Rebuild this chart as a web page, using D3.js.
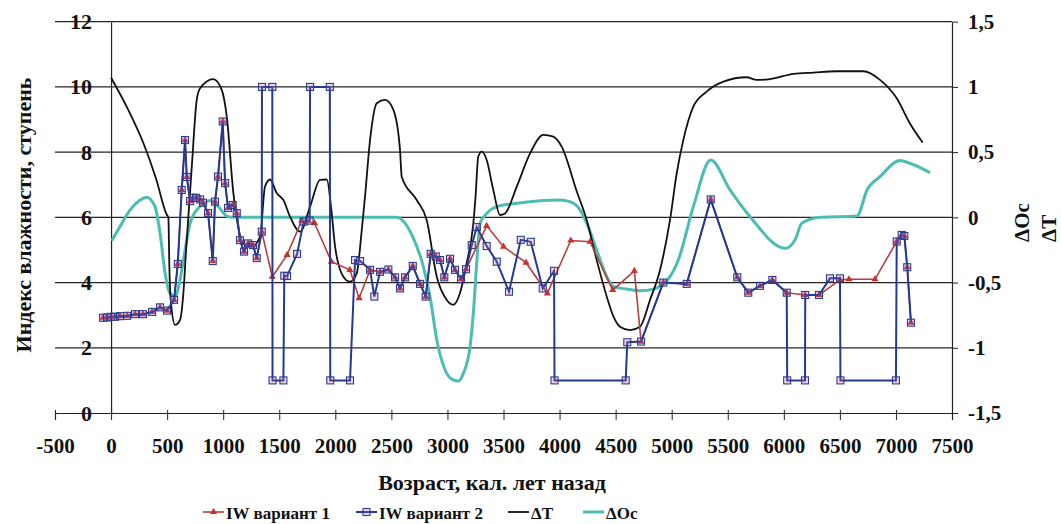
<!DOCTYPE html>
<html>
<head>
<meta charset="utf-8">
<script src="https://cdn.jsdelivr.net/npm/d3@7"></script>
<style>
  body { margin: 0; background: #fff; }
</style>
</head>
<body>
<div id="chart"></div>
<script>
// x ticks, y ticks
var xTicks = [-500, 0, 500, 1000, 1500, 2000, 2500, 3000, 3500, 4000, 4500, 5000, 5500, 6000, 6500, 7000, 7500];
var leftTicks = [0, 2, 4, 6, 8, 10, 12];
var rightTicks = [-1.5, -1, -0.5, 0, 0.5, 1, 1.5];

// IW вариант 1 : [возраст, индекс]
var iw1 = [[-71,2.92],[-36,2.93],[0,2.95],[36,2.95],[80,2.97],[143,2.98],[214,3.03],[285,3.03],[366,3.1],[437,3.24],[499,3.14],
  [562,3.47],[595,4.57],[630,6.84],[660,8.37],[675,7.24],[705,6.5],[731,6.6],[758,6.6],[794,6.55],[820,6.45],[865,6.13],
  [907,4.66],[927,6.48],[954,7.25],[996,8.94],[1017,7.05],[1043,6.29],[1085,6.38],[1121,6.13],[1150,5.3],[1186,4.95],
  [1222,5.2],[1266,5.15],[1299,4.75],[1344,5.56],[1438,4.18],[1570,4.85],[1700,5.9],[1815,5.82],[1965,4.64],[2130,4.39],
  [2212,3.52],[2310,4.39],[2399,4.33],[2473,4.4],[2533,4.16],[2577,3.82],[2622,4.16],[2691,4.51],[2756,3.96],[2806,3.57],
  [2851,4.88],[2896,4.8],[2934,4.69],[2972,4.16],[3023,4.73],[3068,4.39],[3121,4.1],[3166,4.41],[3350,5.74],[3500,5.1],
  [3701,4.61],[3891,3.67],[4100,5.29],[4272,5.25],[4474,3.77],[4667,4.36],[4727,2.19],[4925,4.0],[5134,3.96],[5348,6.55],
  [5585,4.16],[5683,3.69],[5788,3.9],[5898,4.08],[6026,3.69],[6189,3.62],[6314,3.62],[6501,4.08],[6581,4.1],[6813,4.1],
  [7007,5.26],[7051,5.46],[7075,5.43],[7101,4.47],[7134,2.77]];

// IW вариант 2
var iw2 = [[-71,2.92],[-36,2.93],[0,2.95],[36,2.95],[80,2.97],[143,2.98],[214,3.03],[285,3.03],[366,3.1],[437,3.24],[499,3.14],
  [562,3.47],[595,4.57],[630,6.84],[660,8.37],[675,7.24],[705,6.5],[731,6.6],[758,6.6],[794,6.55],[820,6.45],[865,6.13],
  [907,4.66],[927,6.48],[954,7.25],[996,8.94],[1017,7.05],[1043,6.29],[1085,6.38],[1121,6.13],[1150,5.3],[1186,4.95],
  [1222,5.2],[1266,5.15],[1299,4.75],[1344,5.56],[1346,10],[1438,10],[1440,1],[1537,1],[1545,4.21],[1570,4.2],[1659,4.88],
  [1718,5.87],[1771,5.9],[1775,10],[1951,10],[1955,1],[2131,1],[2176,4.69],[2221,4.66],[2310,4.39],[2348,3.57],[2399,4.33],
  [2473,4.4],[2533,4.16],[2577,3.82],[2622,4.16],[2691,4.51],[2756,3.96],[2806,3.57],[2851,4.88],[2896,4.8],[2934,4.69],
  [2972,4.16],[3023,4.73],[3068,4.39],[3121,4.1],[3166,4.41],[3217,5.15],[3261,5.7],[3350,5.12],[3440,4.64],[3549,3.72],
  [3654,5.31],[3743,5.25],[3850,3.82],[3951,4.36],[3955,1],[4590,1],[4604,2.17],[4727,2.19],[4925,4.0],[5134,3.96],
  [5348,6.55],[5585,4.16],[5683,3.69],[5788,3.9],[5898,4.08],[6026,3.69],[6030,1],[6189,1],[6191,3.62],[6314,3.62],
  [6412,4.13],[6501,4.13],[6505,1],[7000,1],[7007,5.26],[7051,5.46],[7075,5.43],[7101,4.47],[7134,2.77]];

// ΔT (правая ось)
var dT = [[0,1.07],[150,0.83],[288,0.57],[400,0.3],[497,0.02],[511,0.0],[520,-0.378],[532,-0.633],[571,-0.825],
  [615,-0.787],[645,-0.58],[669,-0.25],[720,0.389],[764,0.9],[794,0.99],[912,1.06],[987,0.977],[1032,0.772],[1091,0.185],
  [1133,-0.07],[1177,-0.2],[1255,-0.225],[1329,-0.148],[1373,0.236],[1418,0.29],[1478,0.185],[1537,0.133],[1596,0.005],
  [1686,-0.11],[1775,0.082],[1864,0.287],[1924,0.29],[1968,0.03],[1998,-0.225],[2072,-0.455],[2131,-0.493],[2191,-0.43],
  [2236,-0.097],[2265,0.16],[2310,0.594],[2370,0.875],[2444,0.9],[2518,0.824],[2577,0.517],[2592,0.312],[2726,0.133],
  [2815,-0.02],[2905,-0.455],[2994,-0.633],[3053,-0.67],[3112,-0.58],[3172,-0.35],[3231,-0.045],[3250,0.15],[3275,0.466],
  [3306,0.504],[3350,0.44],[3409,0.21],[3469,0.018],[3514,0.03],[3618,0.235],[3737,0.49],[3855,0.632],[3944,0.619],
  [4019,0.542],[4153,0.2],[4242,-0.02],[4331,-0.327],[4421,-0.608],[4480,-0.76],[4539,-0.838],[4628,-0.864],[4718,-0.838],
  [4807,-0.633],[4896,-0.403],[4985,-0.02],[5045,0.338],[5104,0.594],[5193,0.849],[5312,0.964],[5461,1.04],[5669,1.074],
  [5758,1.054],[5877,1.06],[6085,1.1],[6263,1.11],[6472,1.12],[6709,1.12],[6858,1.054],[7007,0.913],[7125,0.72],[7239,0.573]];

// ΔOc (правая ось)
var dOc = [[6,-0.18],[80,-0.07],[170,0.057],[259,0.133],[318,0.155],[392,0.082],[437,-0.122],[482,-0.43],[526,-0.582],
  [571,-0.608],[615,-0.48],[660,-0.25],[705,-0.045],[764,0.057],[838,0.108],[880,0.13],[943,0.095],[1032,0.01],[1079,0],
  [2548,0],[2607,-0.03],[2696,-0.16],[2785,-0.378],[2845,-0.608],[2905,-0.94],[2979,-1.17],[3053,-1.247],[3100,-1.255],
  [3142,-1.196],[3202,-0.99],[3231,-0.735],[3261,-0.352],[3291,-0.045],[3350,0.03],[3440,0.082],[3618,0.108],[3826,0.128],
  [4004,0.133],[4093,0.12],[4183,0.057],[4242,-0.045],[4331,-0.25],[4421,-0.455],[4480,-0.531],[4599,-0.55],[4718,-0.562],
  [4836,-0.55],[4985,-0.455],[5059,-0.327],[5193,0.082],[5348,0.44],[5520,0.21],[5699,0.005],[6011,-0.237],[6100,-0.173],
  [6160,-0.045],[6326,0.0],[6653,0.01],[6742,0.21],[6858,0.312],[7036,0.435],[7125,0.415],[7304,0.343]];

var legendNames = ["IW вариант 1", "IW вариант 2", "ΔT", "ΔOc"];

var width = 1061, height = 524;
var FONT = "'Liberation Serif', 'Times New Roman', serif";

var svg = d3.select("#chart").append("svg")
  .attr("width", width)
  .attr("height", height)
  .style("font-family", FONT);

var x = d3.scaleLinear().domain([-500, 7500]).range([55, 952]);
var yL = d3.scaleLinear().domain([0, 12]).range([413, 21.7]);
var yR = d3.scaleLinear().domain([-1.5, 1.5]).range([413, 21.7]);

var loc = d3.formatLocale({decimal: ",", thousands: "", grouping: [3], currency: ["", ""], minus: "-"});
var fmtR = function(d) { return loc.format("")(d); };

function styleText(sel, size) {
  sel.attr("font-family", FONT)
    .attr("font-weight", "bold")
    .attr("font-size", size)
    .attr("fill", "#111")
    .style("font-family", FONT);
}

// grid
svg.append("g").selectAll("line")
  .data(leftTicks.slice(1))
  .enter().append("line")
  .attr("x1", x(-500)).attr("x2", x(7500))
  .attr("y1", d => yL(d)).attr("y2", d => yL(d))
  .attr("stroke", "#2b2424").attr("stroke-width", 1.2);

// x axis
var xa = svg.append("g")
  .attr("transform", "translate(0," + yL(0) + ")")
  .call(d3.axisBottom(x).tickValues(xTicks).tickSize(7).tickPadding(18).tickFormat(loc.format("d")));
xa.selectAll(".tick line").attr("y1", -3).attr("stroke", "#222");
xa.select(".domain").attr("stroke", "#222").attr("stroke-width", 1.2);
styleText(xa.selectAll("text"), 21);

// left axis at age 0
var la = svg.append("g")
  .attr("transform", "translate(" + x(0) + ",0)")
  .call(d3.axisLeft(yL).tickValues(leftTicks).tickSize(0).tickPadding(19));
la.select(".domain").attr("stroke", "#222").attr("stroke-width", 1.2);
styleText(la.selectAll("text"), 22);

// right axis
var ra = svg.append("g")
  .attr("transform", "translate(" + x(7500) + ",0)")
  .call(d3.axisRight(yR).tickValues(rightTicks).tickSize(6).tickSizeOuter(0).tickPadding(10).tickFormat(fmtR));
ra.select(".domain").attr("stroke", "#222").attr("stroke-width", 1.2);
ra.selectAll(".tick line").attr("stroke", "#222");
styleText(ra.selectAll("text"), 21);

// titles
styleText(svg.append("text")
  .attr("transform", "translate(31,215) rotate(-90)")
  .attr("text-anchor", "middle")
  .text("Индекс влажности, ступень"), 22);

styleText(svg.append("text")
  .attr("transform", "translate(1029,242) rotate(-90)")
  .attr("text-anchor", "start")
  .text("ΔOc"), 21);
styleText(svg.append("text")
  .attr("transform", "translate(1056,242) rotate(-90)")
  .attr("text-anchor", "start")
  .text("ΔT"), 21);

styleText(svg.append("text")
  .attr("x", 492).attr("y", 490)
  .attr("text-anchor", "middle")
  .text("Возраст, кал. лет назад"), 22);

// lines
var lineL = d3.line().x(d => x(d[0])).y(d => yL(d[1]));
var lineR = d3.line().x(d => x(d[0])).y(d => yR(d[1])).curve(d3.curveMonotoneX);

svg.append("path").datum(dOc)
  .attr("d", lineR).attr("fill", "none")
  .attr("stroke", "#4dbdb3").attr("stroke-width", 3);

svg.append("path").datum(dT)
  .attr("d", lineR).attr("fill", "none")
  .attr("stroke", "#111").attr("stroke-width", 1.8);

svg.append("path").datum(iw1)
  .attr("d", lineL).attr("fill", "none")
  .attr("stroke", "#b4403c").attr("stroke-width", 1.6);

svg.selectAll(".tri")
  .data(iw1)
  .enter().append("path")
  .attr("class", "tri")
  .attr("transform", d => "translate(" + x(d[0]) + "," + yL(d[1]) + ")")
  .attr("d", d3.symbol(d3.symbolTriangle, 22))
  .attr("fill", "#c8322e");

svg.append("path").datum(iw2)
  .attr("d", lineL).attr("fill", "none")
  .attr("stroke", "#223a96").attr("stroke-width", 2);

svg.selectAll(".sq")
  .data(iw2)
  .enter().append("rect")
  .attr("class", "sq")
  .attr("x", d => x(d[0]) - 3.5).attr("y", d => yL(d[1]) - 3.5)
  .attr("width", 7).attr("height", 7)
  .attr("fill", "rgba(200,90,160,0.25)")
  .attr("stroke", "#2a3d8f").attr("stroke-width", 1.1);

// legend
var lg = svg.append("g");
var lgX = [203, 356, 508, 583];
var lgColor = ["#b4403c", "#223a96", "#111", "#4dbdb3"];
var lgW = [1.6, 2, 1.8, 3];
legendNames.forEach(function(name, i) {
  lg.append("line")
    .attr("x1", lgX[i]).attr("x2", lgX[i] + 21)
    .attr("y1", 512).attr("y2", 512)
    .attr("stroke", lgColor[i]).attr("stroke-width", lgW[i]);
  if (i === 0) {
    lg.append("path").attr("transform", "translate(" + (lgX[i] + 10.5) + ",512)")
      .attr("d", d3.symbol(d3.symbolTriangle, 22)).attr("fill", "#c8322e");
  }
  if (i === 1) {
    lg.append("rect").attr("x", lgX[i] + 7).attr("y", 508.5).attr("width", 7).attr("height", 7)
      .attr("fill", "rgba(200,90,160,0.25)").attr("stroke", "#2a3d8f").attr("stroke-width", 1.1);
  }
  styleText(lg.append("text")
    .attr("x", lgX[i] + 23).attr("y", 519)
    .text(name), 17);
});
</script>
</body>
</html>
